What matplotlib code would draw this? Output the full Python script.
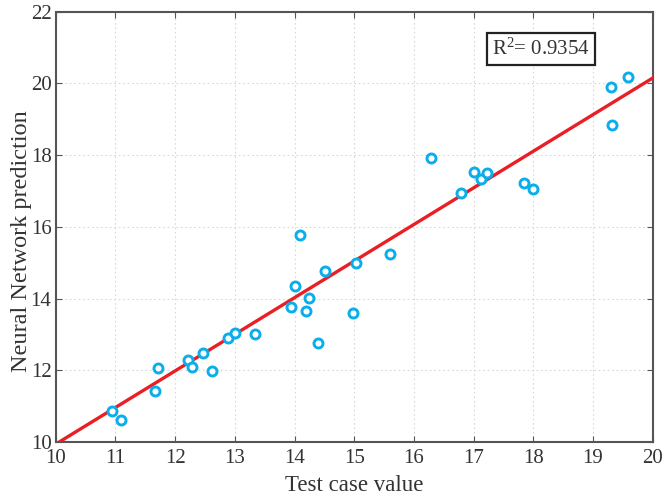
import numpy as np
import matplotlib
matplotlib.use("Agg")
import matplotlib.pyplot as plt

plt.rcParams['font.family'] = ['Liberation Serif', 'DejaVu Serif']
plt.rcParams['mathtext.fontset'] = 'custom'
plt.rcParams['mathtext.rm'] = 'Liberation Serif'
plt.rcParams['mathtext.it'] = 'Liberation Serif:italic'

# Data
test_values = [10.95, 11.09, 11.67, 11.72, 12.22, 12.29, 12.46, 12.61, 12.89, 13.01,
               13.34, 14.09, 14.00, 14.51, 14.25, 13.94, 14.20, 14.40, 14.98, 15.03,
               15.60, 16.29, 16.79, 17.01, 17.12, 17.23, 17.84, 18.00, 19.30, 19.58,
               19.31]
nn_pred = [10.87, 10.62, 11.43, 12.07, 12.29, 12.10, 12.49, 11.99, 12.91, 13.05,
           13.02, 15.77, 14.36, 14.76, 14.01, 13.76, 13.66, 12.75, 13.60, 15.00,
           15.24, 17.91, 16.95, 17.53, 17.33, 17.51, 17.23, 17.06, 19.89, 20.19,
           18.84]
fit_slope = 1.021
fit_intercept = -0.27
r2_label = r'R$^2$= 0.9354'
x_ticks = [10, 11, 12, 13, 14, 15, 16, 17, 18, 19, 20]
y_ticks = [10, 12, 14, 16, 18, 20, 22]

text_color = '#333333'

fig = plt.figure(figsize=(6.72, 4.97), dpi=100)
ax = fig.add_axes([0.0829, 0.1107, 0.9713 - 0.0829, 0.9765 - 0.1107])

xl = np.array([9.5, 20.5])
ax.plot(xl, fit_slope * xl + fit_intercept, color='#ea1f25', lw=2.4, zorder=3)
ax.plot(test_values, nn_pred, 'o', ms=6.5, mfc='white', mec='#0aaeea', mew=2.1,
        linestyle='none', zorder=4)

ax.set_xlim(10, 20)
ax.set_ylim(10, 22)
ax.set_xticks(x_ticks)
ax.set_yticks(y_ticks)
ax.grid(True, linestyle=(0, (1.5, 2.5)), color='#d8d8d8', linewidth=0.8)
ax.set_axisbelow(True)
for s in ax.spines.values():
    s.set_color('#555555')
    s.set_linewidth(1.5)
ax.tick_params(direction='in', length=4, width=0.8, colors='#555555',
               labelcolor=text_color, labelsize=15, top=True, right=True, pad=3)
ax.tick_params(axis='x', pad=5)

ax.set_xlabel('Test case value', fontsize=16.5, color=text_color)
ax.set_ylabel('Neural Network prediction', fontsize=17.5, color=text_color)
ax.xaxis.set_label_coords(0.5, -0.077)
ax.yaxis.set_label_coords(-0.039, 0.467)

ax.text(0.813, 0.913, r2_label, transform=ax.transAxes, fontsize=15,
        color=text_color, ha='center', va='center',
        bbox=dict(boxstyle='square,pad=0.25', fc='white', ec='#222222', lw=1.6))

fig.savefig('out.png', dpi=100)
